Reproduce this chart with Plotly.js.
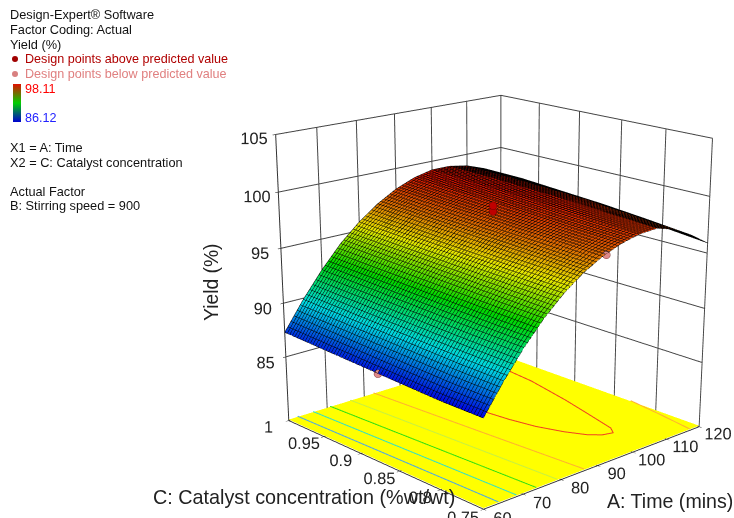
<!DOCTYPE html>
<html><head><meta charset="utf-8">
<script src="https://cdn.plot.ly/plotly-3.0.1.min.js"></script>
<style>html,body{margin:0;padding:0;background:#fff;overflow:hidden;width:734px;height:518px}
#g{position:absolute;left:-207px;top:-308px}</style>
</head><body><div id="g"></div>
<script>
const timeVals=[60,65,70,75,80,85,90,95,100,105,110,115,120];
const catalystVals=[0.75,0.8,0.85,0.9,0.95,1];
const yield075=[86.7,89.25,91.5,93.45,95.05,96.3,97.25,97.9,98.3,98.4,97.9,97.0,95.9];
const yield080=[86.7,89.3,91.6,93.6,95.2,96.5,97.5,98.1,98.5,98.6,98.2,97.4,96.3];
const yield085=[86.85,89.45,91.75,93.75,95.35,96.65,97.65,98.35,98.75,98.85,98.55,97.75,96.65];
const yield090=[87.0,89.6,91.9,93.9,95.5,96.8,97.8,98.5,98.9,99.0,98.7,98.0,97.0];
const yield095=[87.15,89.75,92.05,94.05,95.65,96.95,97.95,98.65,99.05,99.15,98.85,98.25,97.25];
const yield100=[87.3,89.9,92.2,94.2,95.8,97.1,98.1,98.8,99.2,99.2,98.9,98.3,97.4];
const floorZ=79;
const aboveA=[90,90],aboveC=[0.875,0.875],aboveY=[98.5,99.0];
const belowA=[91,60],belowC=[0.75,0.875],belowY=[97.3,86.9];
const contours=[
 {c:'#4aa8e8',a:[62.3,63,63.7],k:[1,0.875,0.75]},
 {c:'#30e0c8',a:[66.3,67.3,68.3],k:[1,0.875,0.75]},
 {c:'#30e010',a:[70.8,72.1,73.4],k:[1,0.875,0.75]},
 {c:'#c8f040',a:[76.2,77.6,79],k:[1,0.875,0.75]},
 {c:'#ffb030',a:[82.6,84.4,86.3],k:[1,0.875,0.75]},
 {c:'#ffb030',a:[120,118.6,117],k:[0.83,0.79,0.75]},
 {c:'#f04020',a:[91,91.6,92.6,93.5,94.8,97,99.3,101.5,104,105.5,106.5,108,110,111.5,112.8,113.7,115],k:[1,0.96,0.901,0.87,0.843,0.818,0.8,0.791,0.788,0.797,0.813,0.837,0.87,0.9,0.926,0.963,1]}
];
const surfScale=[[0,'#0000e0'],[0.25,'#00d8e0'],[0.5,'#00d800'],[0.72,'#e8e800'],[0.86,'#e07000'],[1,'#d01000']];
const legendLines=[
 ['Design-Expert® Software',8,14.5,'#111',12.75],['Factor Coding: Actual',8,29.5,'#111',12.75],['Yield (%)',8,44,'#111',12.75],
 ['Design points above predicted value',23,59,'#b00000',12.6],['Design points below predicted value',23,74,'#e08080',12.6],
 ['X1 = A: Time',8,148,'#111',12.75],['X2 = C: Catalyst concentration',8,162,'#111',12.75],
 ['Actual Factor',8,191.5,'#111',12.75],['B: Stirring speed = 900',8,206,'#111',12.75]];
const flat={ambient:1,diffuse:0,specular:0,roughness:1,fresnel:0};
const CW=1400,CH=1398,OX=207,OY=308;
const px=x=>(x+OX)/CW, py=y=>1-(y+OY)/CH;
const traces=[
 {type:'surface',x:[60,120],y:[0.75,1],z:[[floorZ,floorZ],[floorZ,floorZ]],showscale:false,colorscale:[[0,'#ffff00'],[1,'#ffff00']],lighting:flat,hoverinfo:'skip'},
 {type:'surface',x:timeVals,y:catalystVals,z:[yield075,yield080,yield085,yield090,yield095,yield100],
  cmin:86.6,cmax:99,colorscale:surfScale,showscale:false,lighting:flat,
  contours:{x:{show:true,start:60,end:120,size:0.8333,color:'#000',width:1},y:{show:true,start:0.75,end:1,size:0.0035714,color:'#000',width:1}}}
];
contours.forEach(l=>traces.push({type:'scatter3d',mode:'lines',x:l.a,y:l.k,z:l.a.map(()=>floorZ+0.05),line:{color:l.c,width:2},hoverinfo:'skip'}));
traces.push({type:'scatter3d',mode:'markers',x:aboveA,y:aboveC,z:aboveY,marker:{size:4.5,color:'#c00000',line:{color:'#600',width:1}}});
traces.push({type:'scatter3d',mode:'markers',x:belowA,y:belowC,z:belowY,marker:{size:4.5,color:'#e08a8a',line:{color:'#844',width:1}}});
traces.push({type:'scatter3d',mode:'markers',x:[90,90],y:[0.875,0.875],z:[90,90],marker:{size:1,opacity:0,color:[86.12,98.11],cmin:86.12,cmax:98.11,
  colorscale:[[0,'#0000d0'],[0.5,'#00d000'],[1,'#e01000']],showscale:true,
  colorbar:{thickness:8,thicknessmode:'pixels',len:38,lenmode:'pixels',x:px(13),xanchor:'left',y:py(84),yanchor:'top',xpad:0,ypad:0,outlinewidth:0,showticklabels:false,ticks:''}}});
const ax={showbackground:false,showgrid:true,gridcolor:'#444',gridwidth:2,showline:true,linecolor:'#333',linewidth:2,zeroline:false,showspikes:false,
  ticks:'outside',ticklen:3,tickcolor:'#000',tickangle:0,tickfont:{family:'Liberation Sans',size:14,color:'#222'},title:{text:''}};
const note=(t,x,y,xa,size,col,ang)=>({text:t,xref:'paper',yref:'paper',x:px(x),y:py(y),xanchor:xa,yanchor:'middle',textangle:ang||0,showarrow:false,font:{family:'Liberation Sans',size:size,color:col}});
const anns=legendLines.map(r=>note(r[0],r[1],r[2],'left',r[4],r[3]));
anns.push(note('98.11',23,89,'left',12.6,'#f00'));
anns.push(note('86.12',23,118,'left',12.6,'#22f'));
anns.push(note('Yield (%)',211,282,'center',19.3,'#222',-90));
anns.push(note('C: Catalyst concentration (%wt/wt)',304,497,'center',19.8,'#222'));
anns.push(note('A: Time (mins)',670,501,'center',19.6,'#222'));
const dotShape=(x,y,col)=>({type:'circle',xref:'paper',yref:'paper',x0:px(x-3),x1:px(x+3),y0:py(y+3),y1:py(y-3),fillcolor:col,line:{width:0}});
Plotly.newPlot('g',traces,{
 width:CW,height:CH,margin:{l:0,r:0,t:0,b:0},paper_bgcolor:'#fff',showlegend:false,annotations:anns,
 shapes:[dotShape(15,59,'#a00000'),dotShape(15,74,'#d88080')],
 scene:{domain:{x:[0,1],y:[0,1]},bgcolor:'#fff',aspectmode:'manual',aspectratio:{x:1,y:1,z:1.0},
  camera:{eye:{x:-3.66,y:-3.97,z:1.65},center:{x:0,y:0,z:-0.38},up:{x:0,y:0,z:1}},
  xaxis:Object.assign({},ax,{range:[60,120],tickvals:[60,70,80,90,100,110,120]}),
  yaxis:Object.assign({},ax,{range:[0.75,1],tickvals:[0.75,0.8,0.85,0.9,0.95,1],ticktext:['0.75','0.8','0.85','0.9','0.95','1']}),
  zaxis:Object.assign({},ax,{range:[78.9,105],tickvals:[85,90,95,100,105]})}
},{displayModeBar:false});
</script></body></html>
